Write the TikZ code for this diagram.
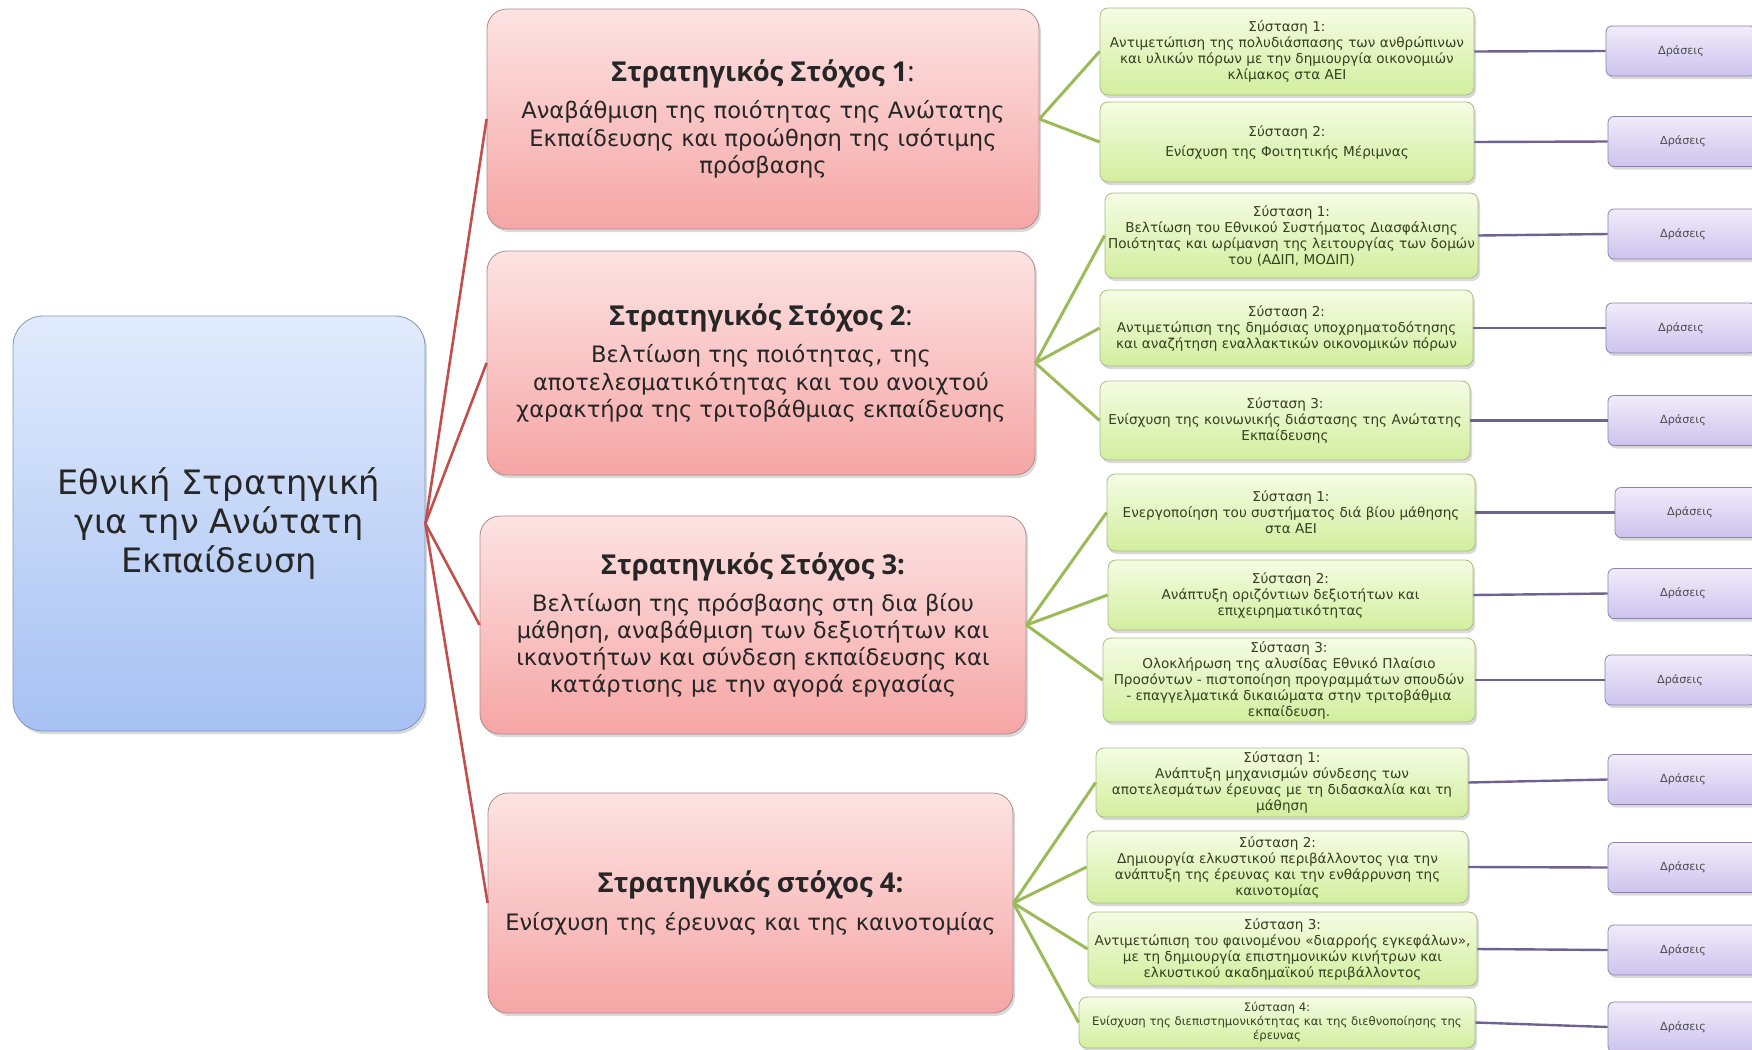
\documentclass[tikz,border=0pt]{standalone}
\usepackage{fontspec}
\setmainfont{DejaVu Sans}
\newfontfamily\titlefont{Open Sans}
\usetikzlibrary{shadows}

\definecolor{rootline}{HTML}{8396B8}
\definecolor{roottop}{HTML}{E1EBFC}
\definecolor{rootbot}{HTML}{A6C1F3}
\definecolor{goalline}{HTML}{B08A8A}
\definecolor{goaltop}{HTML}{FDE3E3}
\definecolor{goalbot}{HTML}{F6A5A5}
\definecolor{recline}{HTML}{A9BB86}
\definecolor{rectop}{HTML}{F5FCE3}
\definecolor{recbot}{HTML}{D2EE9E}
\definecolor{actline}{HTML}{8C83AA}
\definecolor{acttop}{HTML}{F0ECFA}
\definecolor{actbot}{HTML}{CDC3EE}
\definecolor{redwire}{HTML}{C0504D}
\definecolor{greenwire}{HTML}{9BBB59}
\definecolor{purplewire}{HTML}{6E6290}
\definecolor{rectext}{HTML}{34401F}

\tikzset{
  dims/.style 2 args={minimum width=#1pt, minimum height=#2pt},
  soft shadow/.style={drop shadow={shadow xshift=1pt, shadow yshift=-1.5pt, opacity=0.3}},
  root node/.style={draw=rootline, rounded corners=15pt, top color=roottop, bottom color=rootbot,
    align=center, text=black!85, font=\fontsize{16.8}{19.5}\selectfont, soft shadow},
  goal node/.style={draw=goalline, rounded corners=10pt, top color=goaltop, bottom color=goalbot,
    align=center, text=black!85, font=\fontsize{11.3}{13.6}\selectfont, soft shadow},
  rec node/.style={draw=recline, rounded corners=4pt, top color=rectop, bottom color=recbot,
    align=center, text=rectext, inner sep=1pt, font=\fontsize{6.8}{8}\selectfont, soft shadow},
  act node/.style={draw=actline, rounded corners=3pt, top color=acttop, bottom color=actbot,
    align=center, text=black!70, font=\fontsize{5.6}{7}\selectfont, dims={75}{25}, soft shadow},
}
\newcommand{\goaltitle}[2]{{\titlefont\bfseries\fontsize{13.7}{17}\selectfont #1}{\titlefont\fontsize{13.7}{17}\selectfont #2}\\[5pt]}

\begin{document}
\begin{tikzpicture}[x=0.5pt,y=-0.5pt]
    \useasboundingbox (0,0) rectangle (1752,1050);

    % root
    \node[root node, dims={206}{207.5}] (root) at (219,523.5)
        {Εθνική Στρατηγική\\για την Ανώτατη\\Εκπαίδευση};

    % strategic goals
    \node[goal node, dims={276}{110}] (g1) at (763,119)
        {\goaltitle{Στρατηγικός Στόχος 1}{:}Αναβάθμιση  της ποιότητας της Ανώτατης\\Εκπαίδευσης και προώθηση της ισότιμης\\πρόσβασης};
    \node[goal node, dims={274}{112}] (g2) at (761,363)
        {\goaltitle{Στρατηγικός Στόχος 2}{:}Βελτίωση της ποιότητας, της\\αποτελεσματικότητας και του ανοιχτού\\χαρακτήρα της τριτοβάθμιας εκπαίδευσης};
    \node[goal node, dims={273}{109}] (g3) at (753,625)
        {\goaltitle{Στρατηγικός Στόχος 3:}{}Βελτίωση της πρόσβασης στη δια βίου\\μάθηση, αναβάθμιση των δεξιοτήτων και\\ικανοτήτων και σύνδεση εκπαίδευσης και\\κατάρτισης με την αγορά εργασίας};
    \node[goal node, dims={262.5}{110}] (g4) at (750.5,903)
        {\goaltitle{Στρατηγικός στόχος 4:}{}Ενίσχυση της έρευνας και της καινοτομίας};

    % recommendations
    \node[rec node, dims={187}{43.5}] (s11) at (1287,51.5)
        {Σύσταση 1:\\Αντιμετώπιση της πολυδιάσπασης των ανθρώπινων\\και υλικών πόρων με την δημιουργία οικονομιών\\κλίμακος στα ΑΕΙ};
    \node[rec node, dims={187}{40}] (s12) at (1287,142)
        {Σύσταση 2:\\[2pt]Ενίσχυση της Φοιτητικής Μέριμνας};
    \node[rec node, dims={186.5}{42.5}] (s21) at (1291.5,235.5)
        {Σύσταση 1:\\Βελτίωση του Εθνικού Συστήματος Διασφάλισης\\Ποιότητας και ωρίμανση της λειτουργίας των δομών\\του (ΑΔΙΠ, ΜΟΔΙΠ)};
    \node[rec node, dims={186.5}{38}] (s22) at (1286.5,328)
        {Σύσταση 2:\\Αντιμετώπιση της δημόσιας υποχρηματοδότησης\\και αναζήτηση εναλλακτικών οικονομικών πόρων};
    \node[rec node, dims={185}{39.5}] (s23) at (1285,420.5)
        {Σύσταση 3:\\Ενίσχυση της κοινωνικής διάστασης της Ανώτατης\\Εκπαίδευσης};
    \node[rec node, dims={184}{38.5}] (s31) at (1291,512.5)
        {Σύσταση 1:\\Ενεργοποίηση του συστήματος διά βίου μάθησης\\στα ΑΕΙ};
    \node[rec node, dims={182.5}{35}] (s32) at (1290.5,595)
        {Σύσταση 2:\\Ανάπτυξη οριζόντιων δεξιοτήτων και\\επιχειρηματικότητας};
    \node[rec node, dims={186}{42}] (s33) at (1289,680)
        {Σύσταση 3:\\Ολοκλήρωση της αλυσίδας Εθνικό Πλαίσιο\\Προσόντων - πιστοποίηση προγραμμάτων σπουδών\\- επαγγελματικά δικαιώματα στην τριτοβάθμια\\εκπαίδευση.};
    \node[rec node, dims={186}{34.5}] (s41) at (1282,782.5)
        {Σύσταση 1:\\Ανάπτυξη μηχανισμών σύνδεσης των\\αποτελεσμάτων έρευνας με τη διδασκαλία και τη\\μάθηση};
    \node[rec node, dims={190.5}{36}] (s42) at (1277.5,867)
        {Σύσταση 2:\\Δημιουργία ελκυστικού περιβάλλοντος για την\\ανάπτυξη της έρευνας και την ενθάρρυνση της\\καινοτομίας};
    \node[rec node, dims={194.5}{37}] (s43) at (1282.5,949)
        {Σύσταση 3:\\Αντιμετώπιση του φαινομένου «διαρροής εγκεφάλων»,\\με τη δημιουργία  επιστημονικών κινήτρων και\\ελκυστικού ακαδημαϊκού περιβάλλοντος};
    \node[rec node, dims={198}{25.5}, font=\fontsize{5.85}{7}\selectfont] (s44) at (1277,1022.5)
        {Σύσταση 4:\\Ενίσχυση της διεπιστημονικότητας και της διεθνοποίησης της\\έρευνας};

    % actions
    \node[act node] (a11) at (1681,51) {Δράσεις};
    \node[act node] (a12) at (1683,141.5) {Δράσεις};
    \node[act node] (a21) at (1683,234) {Δράσεις};
    \node[act node] (a22) at (1681,328) {Δράσεις};
    \node[act node] (a23) at (1683,420.5) {Δράσεις};
    \node[act node] (a31) at (1690,512.5) {Δράσεις};
    \node[act node] (a32) at (1683,593.5) {Δράσεις};
    \node[act node] (a33) at (1680,680) {Δράσεις};
    \node[act node] (a41) at (1683,779.5) {Δράσεις};
    \node[act node] (a42) at (1683,867.5) {Δράσεις};
    \node[act node] (a43) at (1683,950) {Δράσεις};
    \node[act node] (a44) at (1683,1027) {Δράσεις};

    \path[every edge/.style={draw=redwire, line width=1.3pt}]
        (root.east) edge (g1.west)
        (root.east) edge (g2.west)
        (root.east) edge (g3.west)
        (root.east) edge (g4.west)
    ;
    \path[every edge/.style={draw=greenwire, line width=1.5pt}]
        (g1.east) edge (s11.west)
        (g1.east) edge (s12.west)
        (g2.east) edge (s21.west)
        (g2.east) edge (s22.west)
        (g2.east) edge (s23.west)
        (g3.east) edge (s31.west)
        (g3.east) edge (s32.west)
        (g3.east) edge (s33.west)
        (g4.east) edge (s41.west)
        (g4.east) edge (s42.west)
        (g4.east) edge (s43.west)
        (g4.east) edge (s44.west)
    ;
    \path[every edge/.style={draw=purplewire, line width=1.2pt}]
        (s11.east) edge (a11.west)
        (s12.east) edge (a12.west)
        (s21.east) edge (a21.west)
        (s22.east) edge (a22.west)
        (s23.east) edge (a23.west)
        (s31.east) edge (a31.west)
        (s32.east) edge (a32.west)
        (s33.east) edge (a33.west)
        (s41.east) edge (a41.west)
        (s42.east) edge (a42.west)
        (s43.east) edge (a43.west)
        (s44.east) edge (a44.west)
    ;
\end{tikzpicture}
\end{document}
